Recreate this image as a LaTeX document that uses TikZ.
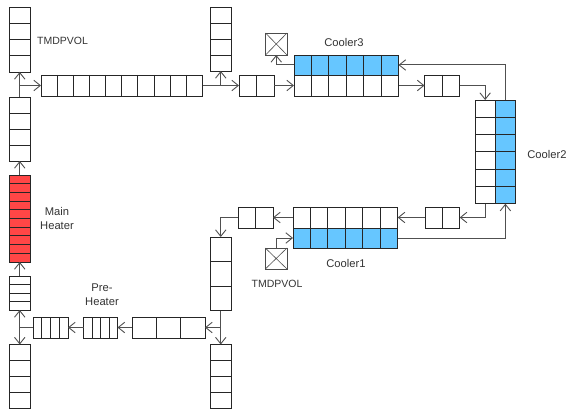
\documentclass[tikz,border=0pt]{standalone}
\usepackage{fontspec}
\setmainfont{Liberation Sans}
\usetikzlibrary{arrows.meta,calc}
\definecolor{cool}{HTML}{66C6FF}
\definecolor{heat}{HTML}{FF4646}
\definecolor{lne}{HTML}{505050}
\tikzset{
  x=1pt,y=-1pt,
  cellbox/.style={draw=black!85,line width=0.95pt,inner sep=0pt,outer sep=0pt},
  flow/.style={draw=lne,line width=1pt,-{Straight Barb[length=6.5pt,width=10.5pt,line width=0.9pt]}},
  plain/.style={draw=lne,line width=1pt},
  lbl/.style={font=\fontsize{11.2}{14.6}\selectfont,text=black!80,align=center,inner sep=0pt},
  lblb/.style={font=\fontsize{10.5}{13}\selectfont,text=black!80,align=center,inner sep=0pt},
}
% name, x1, y1, x2, y2, columns, rows, fill
\newcommand{\gridbox}[8]{%
  \node[cellbox,fill=#8,minimum width=#4pt-#2pt,minimum height=#5pt-#3pt] (#1) at ({(#2+#4)/2},{(#3+#5)/2}) {};
  \pgfmathtruncatemacro{\nc}{#6-1}\pgfmathtruncatemacro{\nr}{#7-1}%
  \ifnum\nc>0 \foreach \i in {1,...,\nc}{\draw[cellbox] ({#2+(#4-#2)*\i/#6},#3) -- ({#2+(#4-#2)*\i/#6},#5);}\fi
  \ifnum\nr>0 \foreach \i in {1,...,\nr}{\draw[cellbox] (#2,{#3+(#5-#3)*\i/#7}) -- (#4,{#3+(#5-#3)*\i/#7});}\fi
}
\newcommand{\xbox}[5]{%
  \node[cellbox,draw=black!70,fill=white,minimum width=#4pt-#2pt,minimum height=#5pt-#3pt] (#1) at ({(#2+#4)/2},{(#3+#5)/2}) {};
  \draw[plain,line width=0.6pt] (#1.north west) -- (#1.south east) (#1.north east) -- (#1.south west);
}
\begin{document}
\begin{tikzpicture}
\useasboundingbox (0,0) rectangle (568,412);
\gridbox{topa}{9}{7}{30.5}{72}{1}{4}{white}
\gridbox{colb}{9}{97}{30.5}{161}{1}{4}{white}
\gridbox{red}{9}{175}{30.5}{262}{1}{10}{heat}
\gridbox{mini}{9}{276}{30.5}{310}{1}{4}{white}
\gridbox{bota}{9}{344.5}{30.5}{408.5}{1}{4}{white}
\gridbox{hlong}{41}{75}{202.5}{96}{10}{1}{white}
\gridbox{topb}{210.5}{7}{231}{71}{1}{4}{white}
\gridbox{pa}{239}{75}{274}{96}{2}{1}{white}
\xbox{xa}{265.5}{33}{287}{55}
\gridbox{coolc}{294}{55}{398.5}{75}{6}{1}{cool}
\gridbox{coolcw}{294}{75}{398.5}{96}{6}{1}{white}
\gridbox{pb}{424.5}{75}{459.5}{96}{2}{1}{white}
\gridbox{coolbw}{475}{100}{495.3}{203.7}{1}{6}{white}
\gridbox{coolb}{495.3}{100}{515.5}{203.7}{1}{6}{cool}
\gridbox{pc}{425}{207}{459.7}{228}{2}{1}{white}
\gridbox{coolaw}{293}{207}{397.7}{228}{6}{1}{white}
\gridbox{coola}{293}{228}{397.7}{248}{6}{1}{cool}
\gridbox{pd}{238.3}{207}{273}{228}{2}{1}{white}
\xbox{xb}{265.3}{248}{287}{269}
\gridbox{colc}{210.5}{237}{231}{310.5}{1}{3}{white}
\gridbox{botb}{210.5}{344.5}{231}{408.5}{1}{4}{white}
\gridbox{hmid}{132}{317}{205}{338}{3}{1}{white}
\gridbox{pre}{83.5}{317}{117.5}{338}{4}{1}{white}
\gridbox{hsm}{33}{317}{68}{338}{4}{1}{white}
% junctions
\coordinate (jl) at (colb.north |- hlong.west);
\coordinate (jt) at (topb.south |- hlong.east);
\coordinate (jm) at (colc.south |- hmid.east);
\coordinate (jb) at (mini.south |- hsm.west);
% connectors
\draw[flow] (colb.north) -- (topa.south);
\draw[flow] (jl) -- (hlong.west);
\draw[flow] (red.north) -- (colb.south);
\draw[flow] (mini.north) -- (red.south);
\draw[flow] (hlong.east) -- (pa.west);
\draw[flow] (jt) -- (topb.south);
\draw[flow] (pa.east) -- (coolcw.west);
\draw[flow] (coolc.west) -| (xa.south);
\draw[flow] (coolcw.east) -- (pb.west);
\draw[flow] (pb.east) -| (coolbw.north);
\draw[flow] (coolb.north) |- (coolc.east);
\draw[flow] (coolbw.south) |- (pc.east);
\draw[flow] (pc.west) -- (coolaw.east);
\draw[flow] (coola.east) -| (coolb.south);
\draw[flow] (coolaw.west) -- (pd.east);
\draw[flow] (pd.west) -| (colc.north);
\draw[flow] (xb.north) |- (coola.west);
\draw[flow] (colc.south) -- (botb.north);
\draw[flow] (jm) -- (hmid.east);
\draw[flow] (hmid.west) -- (pre.east);
\draw[flow] (pre.west) -- (hsm.east);
\draw[plain] (hsm.west) -- (jb);
\draw[flow] (jb) -- (mini.south);
\draw[flow] (jb) -- (bota.north);
% labels
\node[lblb,anchor=west] (l1) at (37,41) {TMDPVOL};
\node[lbl] (l2) at (344,42) {Cooler3};
\node[lbl] (l3) at (547,154) {Cooler2};
\node[lbl] (l4) at (346,263) {Cooler1};
\node[lblb] (l5) at (277,283.5) {TMDPVOL};
\node[lbl] (l6) at (57,218.5) {Main\\Heater};
\node[lbl] (l7) at (102,294.5) {Pre-\\Heater};
\end{tikzpicture}
\end{document}
